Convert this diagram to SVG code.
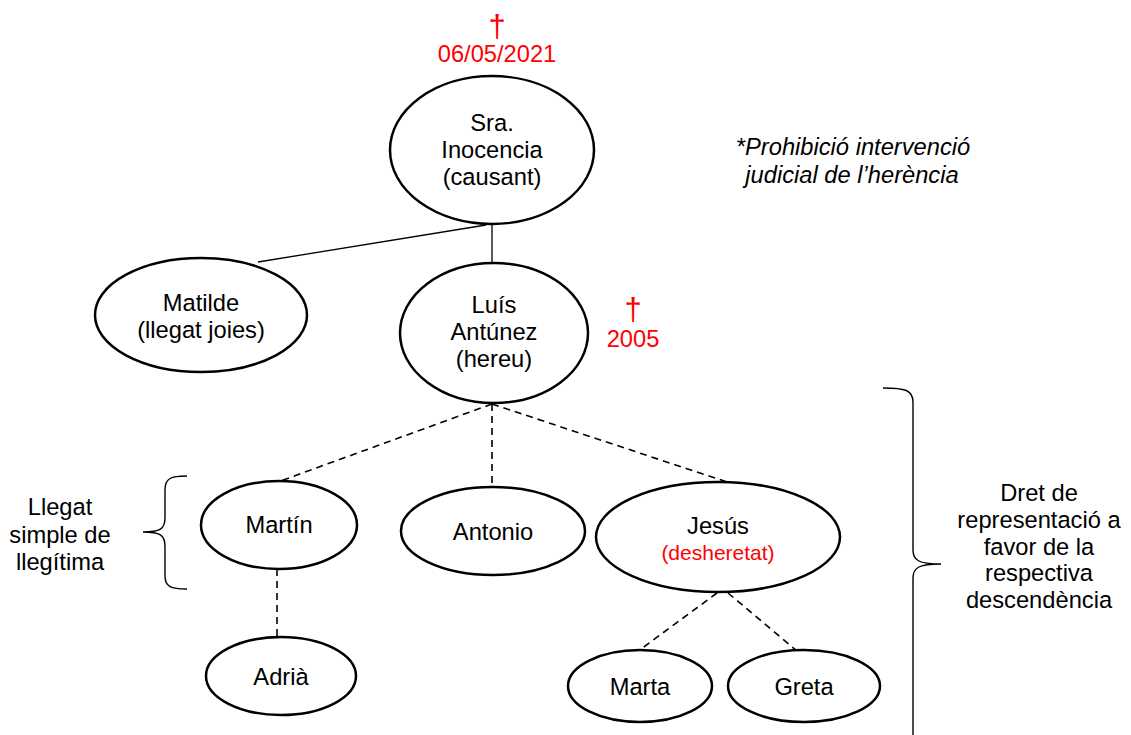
<svg xmlns="http://www.w3.org/2000/svg" width="1131" height="735" viewBox="0 0 1131 735">
<style>
  .node ellipse { fill: #ffffff; stroke: #000000; stroke-width: 2.5; }
  text { font-family: "Liberation Sans", Arial, sans-serif; font-size: 23.7px; fill: #000000; text-anchor: middle; }
  .red { fill: #ff0000; }
  .dagger { font-size: 31px; }
  .small { font-size: 21px; }
  .ital { font-style: italic; }
  .solid { stroke: #000000; stroke-width: 1.3; fill: none; }
  .dash { stroke: #000000; stroke-width: 1.6; fill: none; stroke-dasharray: 7 5; }
  .brace { stroke: #000000; stroke-width: 1.4; fill: none; }
</style>
<rect width="1131" height="735" fill="#ffffff"/>
<g id="connectors">
  <line class="solid" x1="492" y1="224" x2="492" y2="262"/>
  <line class="solid" x1="486" y1="225" x2="258" y2="262"/>
  <line class="dash" x1="492" y1="404" x2="275" y2="483"/>
  <line class="dash" x1="492" y1="404" x2="492" y2="488"/>
  <line class="dash" x1="492" y1="404" x2="730" y2="483"/>
  <line class="dash" x1="277" y1="569" x2="277" y2="637"/>
  <line class="dash" x1="717" y1="593" x2="641" y2="649"/>
  <line class="dash" x1="728" y1="593" x2="797" y2="651"/>
</g>
<g id="death-inocencia">
  <text class="red dagger" x="497" y="37">†</text>
  <text class="red" x="497" y="62">06/05/2021</text>
</g>
<g id="inocencia" class="node">
  <ellipse cx="492" cy="150" rx="102" ry="74"/>
  <text x="492" y="131">Sra.</text>
  <text x="492" y="158">Inocencia</text>
  <text x="492" y="185">(causant)</text>
</g>
<g id="note">
  <text class="ital" x="853" y="155">*Prohibició intervenció</text>
  <text class="ital" x="852" y="183">judicial de l’herència</text>
</g>
<g id="matilde" class="node">
  <ellipse cx="201" cy="315" rx="106" ry="57"/>
  <text x="201" y="311">Matilde</text>
  <text x="201" y="338">(llegat joies)</text>
</g>
<g id="luis" class="node">
  <ellipse cx="494" cy="333" rx="94" ry="70"/>
  <text x="494" y="313">Luís</text>
  <text x="494" y="340">Antúnez</text>
  <text x="494" y="367">(hereu)</text>
</g>
<g id="death-luis">
  <text class="red dagger" x="633" y="320">†</text>
  <text class="red" x="633" y="347">2005</text>
</g>
<g id="martin" class="node">
  <ellipse cx="279" cy="525" rx="78" ry="44"/>
  <text x="279" y="533">Martín</text>
</g>
<g id="antonio" class="node">
  <ellipse cx="493" cy="531" rx="92" ry="44"/>
  <text x="493" y="540">Antonio</text>
</g>
<g id="jesus" class="node">
  <ellipse cx="718" cy="537" rx="122" ry="55"/>
  <text x="718" y="534">Jesús</text>
  <text class="red small" x="718" y="560">(desheretat)</text>
</g>
<g id="adria" class="node">
  <ellipse cx="281" cy="676" rx="75" ry="39"/>
  <text x="281" y="685">Adrià</text>
</g>
<g id="marta" class="node">
  <ellipse cx="640" cy="686" rx="72" ry="36"/>
  <text x="640" y="695">Marta</text>
</g>
<g id="greta" class="node">
  <ellipse cx="804" cy="686" rx="76" ry="36"/>
  <text x="804" y="695">Greta</text>
</g>
<g id="brace-left">
  <path class="brace" d="M187,476 C171,476 165,478 165,490 L165,518 C165,529 160,532 143,532 C160,532 165,535 165,546 L165,576 C165,587 171,589 187,589"/>
  <text x="60" y="515">Llegat</text>
  <text x="60" y="543">simple de</text>
  <text x="60" y="570">llegítima</text>
</g>
<g id="brace-right">
  <path class="brace" d="M883,388 C905,388 913,390 913,402 L913,550 C913,560 918,564 941,564 C918,564 913,568 913,578 L913,740"/>
  <text x="1039" y="501">Dret de</text>
  <text x="1039" y="528">representació a</text>
  <text x="1039" y="555">favor de la</text>
  <text x="1039" y="581">respectiva</text>
  <text x="1039" y="608">descendència</text>
</g>
</svg>
